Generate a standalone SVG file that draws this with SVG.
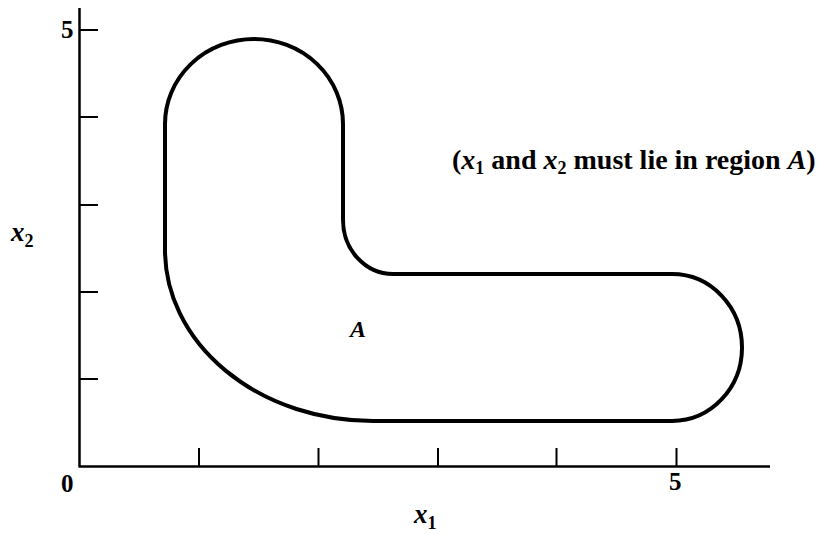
<svg xmlns="http://www.w3.org/2000/svg" width="826" height="534" viewBox="0 0 826 534">
<style>
.ax{stroke:#000;stroke-width:2.5;fill:none;stroke-linecap:butt}
.tk{stroke:#000;stroke-width:2;fill:none}
.rg{stroke:#000;stroke-width:4;fill:none}
text{font-family:"Liberation Serif","Times New Roman",serif;font-weight:bold;fill:#000}
.it{font-style:italic}
.sub{font-size:18px;font-style:normal}
</style>
<rect width="826" height="534" fill="#fff"/>
<g id="axes">
<line class="ax" x1="79.5" y1="8" x2="79.5" y2="466.5"/>
<line class="ax" x1="78.5" y1="466.5" x2="770" y2="466.5"/>
<g class="tk">
<line x1="80" y1="30" x2="98" y2="30"/>
<line x1="80" y1="117" x2="98" y2="117"/>
<line x1="80" y1="205" x2="98" y2="205"/>
<line x1="80" y1="292" x2="98" y2="292"/>
<line x1="80" y1="379" x2="98" y2="379"/>
<line x1="199" y1="448" x2="199" y2="466"/>
<line x1="318.5" y1="448" x2="318.5" y2="466"/>
<line x1="438" y1="448" x2="438" y2="466"/>
<line x1="556.5" y1="448" x2="556.5" y2="466"/>
<line x1="676.5" y1="448" x2="676.5" y2="466"/>
</g>
</g>
<g id="region">
<path class="rg" d="M165,124 A89,85 0 0 1 343,124 L343,220 A50,54 0 0 0 393,274 L672,274 A70,73.5 0 0 1 672,421 L373,421 A208,171 0 0 1 165,250 Z"/>
</g>
<g id="labels">
<text x="61" y="38" font-size="25">5</text>
<text x="61" y="492" font-size="25">0</text>
<text x="669" y="490" font-size="25">5</text>
<text x="11" y="241" font-size="27"><tspan class="it">x</tspan><tspan class="sub" dy="6">2</tspan></text>
<text x="414" y="523" font-size="27"><tspan class="it">x</tspan><tspan class="sub" dy="6">1</tspan></text>
<text x="350" y="337" font-size="24" class="it">A</text>
<text x="452" y="169" font-size="28">(<tspan class="it">x</tspan><tspan class="sub" dy="5">1</tspan><tspan dy="-5"> and </tspan><tspan class="it">x</tspan><tspan class="sub" dy="5">2</tspan><tspan dy="-5"> must lie in region </tspan><tspan class="it">A</tspan>)</text>
</g>
</svg>
